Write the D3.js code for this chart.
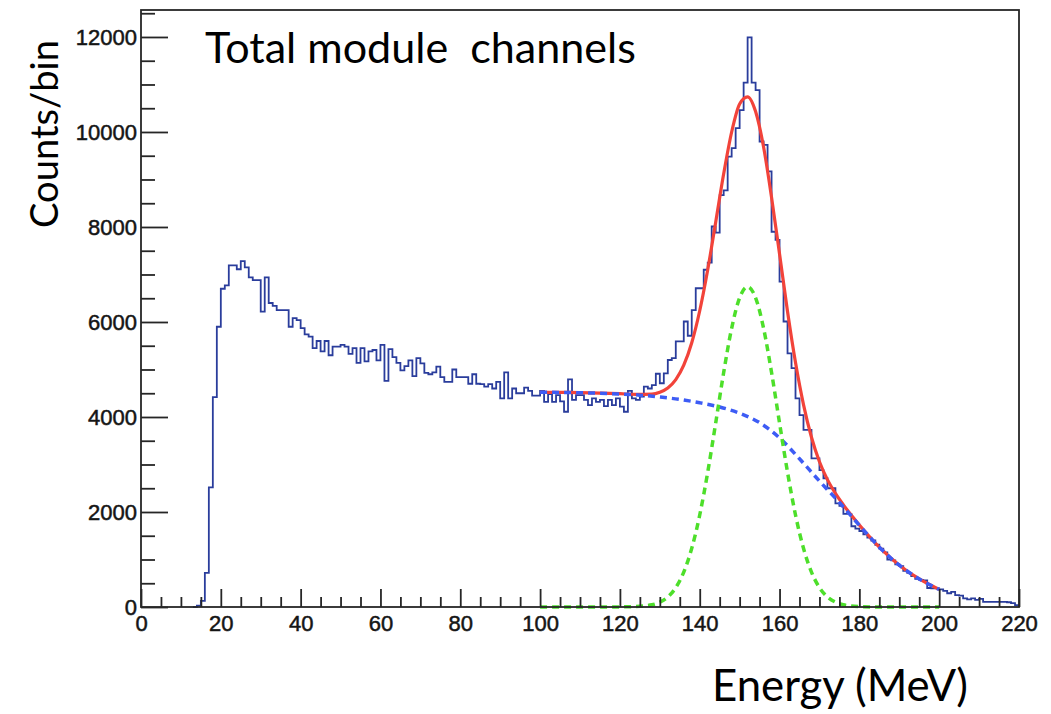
<!DOCTYPE html>
<html>
<head>
<meta charset="utf-8">
<script src="https://cdn.jsdelivr.net/npm/d3@7"></script>
<style>
  html, body { margin: 0; padding: 0; background: #fff; }
  svg { display: block; }
</style>
</head>
<body>
<div id="chart"></div>
<script>
// Counts per 1 MeV bin, 0 to 220 MeV
const binWidth = 1;
const counts = [
  0, 0, 0, 0, 0, 0, 0, 0, 0, 0,
  0, 0, 0, 0, 30, 130, 720, 2520, 4420, 5900,
  6700, 6770, 7190, 7190, 7110, 7280, 7150, 6940, 6880, 6880,
  6220, 6940, 6400, 6340, 6250, 6250, 6250, 5900, 6080, 6040,
  5870, 5740, 5690, 5450, 5600, 5380, 5600, 5300, 5480, 5480,
  5520, 5480, 5330, 5450, 5140, 5450, 5170, 5380, 5410, 5190,
  5520, 4760, 5430, 5260, 5140, 4980, 5070, 5190, 4860, 5240,
  5130, 4930, 4900, 4940, 5060, 4840, 4740, 4740, 5000, 4840,
  4840, 4840, 4700, 4900, 4700, 4690, 4640, 4690, 4600, 4740,
  4390, 4940, 4390, 4600, 4500, 4500, 4620, 4550, 4450, 4450,
  4550, 4320, 4480, 4320, 4460, 4330, 4110, 4790, 4360, 4460,
  4460, 4360, 4250, 4390, 4320, 4360, 4230, 4360, 4250, 4390,
  4220, 4110, 4550, 4390, 4360, 4430, 4640, 4600, 4670, 4910,
  4710, 4920, 5200, 5240, 5590, 5590, 6010, 5710, 6250, 6710,
  6710, 7100, 7250, 8010, 7880, 8670, 8770, 9480, 9660, 10080,
  10460, 11040, 11990, 11040, 10880, 9800, 9730, 9170, 7900, 7730,
  6850, 6010, 5340, 5030, 4390, 4040, 3730, 3730, 3130, 3130,
  2880, 2710, 2500, 2500, 2180, 2130, 1960, 1960, 1700, 1650,
  1600, 1530, 1460, 1400, 1310, 1230, 1150, 1000, 980, 900,
  860, 760, 720, 650, 590, 570, 560, 400, 390, 390,
  370, 340, 290, 320, 250, 240, 180, 160, 180, 150,
  170, 110, 110, 110, 110, 110, 110, 100, 80, 40,
];

// Total fit (red), sampled off the plot
const fitEnergy = [100, 105, 110, 115, 120, 124, 128, 130, 132, 134, 136, 138, 140, 142, 144, 146, 148, 150,
  152, 154, 156, 158, 160, 162, 164, 166, 168, 170, 172, 174, 176, 178, 180, 185, 190, 195, 200];
const fitTotal = [4520, 4518, 4512, 4502, 4490, 4476, 4482, 4522, 4611, 4788, 5091, 5563, 6237, 7100, 8101, 9119, 10000, 10590,
  10740, 10430, 9684, 8623, 7433, 6220, 5145, 4261, 3573, 3058, 2681, 2392, 2150, 1931, 1728, 1260, 880, 590, 370];

// Background component (blue dashed)
const bkgEnergy = [100, 105, 110, 115, 120, 125, 130, 135, 140, 145, 150, 155, 160, 165, 170, 175, 180, 185, 190, 195, 200];
const bkgValues = [4520, 4518, 4510, 4500, 4485, 4460, 4420, 4370, 4300, 4210, 4080, 3880, 3560, 3120, 2650, 2200, 1720, 1260, 880, 590, 370];

// Peak component (green dashed)
const peakEnergy = [100, 110, 120, 124, 128, 130, 132, 134, 136, 138, 140, 142, 144, 146, 148, 150, 152,
  154, 156, 158, 160, 162, 164, 166, 168, 170, 172, 174, 176, 180, 184, 190, 200];
const peakValues = [0, 0, 2, 10, 46, 102, 211, 408, 735, 1235, 1937, 2836, 3873, 4935, 5868, 6510, 6740,
  6510, 5868, 4935, 3873, 2836, 1937, 1235, 735, 408, 211, 102, 46, 8, 1, 0, 0];

const xMajorTicks = [0, 20, 40, 60, 80, 100, 120, 140, 160, 180, 200, 220];
const yMajorTicks = [0, 2000, 4000, 6000, 8000, 10000, 12000];

const titleText = "Total module  channels";
const yTitle = "Counts/bin";
const xTitle = "Energy (MeV)";

const width = 1051;
const height = 714;
const frame = { left: 141, right: 1019, top: 10, bottom: 607 };

const svg = d3.select("#chart").append("svg")
  .attr("width", width)
  .attr("height", height)
  .style("background", "#fff");

const x = d3.scaleLinear().domain([0, 220]).range([frame.left, frame.right]);
const y = d3.scaleLinear().domain([0, 12568]).range([frame.bottom, frame.top]);

const axisColor = "#262626";
const labelFont = "'Liberation Sans', Arial, Helvetica, sans-serif";
const titleFont = "Lato, 'Open Sans', sans-serif";

// Histogram (step line)
const first = Math.max(0, counts.findIndex((c) => c > 0) - 1);
const histPoints = counts.map((c, i) => ({ e: i * binWidth, c })).slice(first);
histPoints.push({ e: counts.length * binWidth, c: counts[counts.length - 1] });

svg.append("path")
  .datum(histPoints)
  .attr("fill", "none")
  .attr("stroke", "#2a3d9c")
  .attr("stroke-width", 1.8)
  .attr("d", d3.line().x((d) => x(d.e)).y((d) => y(d.c)).curve(d3.curveStepAfter));

// Fit curves
function curve(es, vs) {
  return d3.line()
    .x((d, i) => x(es[i]))
    .y((d) => y(d))
    .curve(d3.curveMonotoneX)(vs);
}

svg.append("path")
  .attr("d", curve(fitEnergy, fitTotal))
  .attr("fill", "none")
  .attr("stroke", "#f2433a")
  .attr("stroke-width", 3.2);

svg.append("path")
  .attr("d", curve(bkgEnergy, bkgValues))
  .attr("fill", "none")
  .attr("stroke", "#3d5cf5")
  .attr("stroke-width", 3.5)
  .attr("stroke-dasharray", "7,5");

svg.append("path")
  .attr("d", curve(peakEnergy, peakValues))
  .attr("fill", "none")
  .attr("stroke", "#4ddf2a")
  .attr("stroke-width", 3.5)
  .attr("stroke-dasharray", "7,5");

// Frame
svg.append("rect")
  .attr("x", frame.left)
  .attr("y", frame.top)
  .attr("width", frame.right - frame.left)
  .attr("height", frame.bottom - frame.top)
  .attr("fill", "none")
  .attr("stroke", axisColor)
  .attr("stroke-width", 1.8);

// Y axis: ticks point inward
const yMinor = d3.range(0, 12568, 500).filter((v) => !yMajorTicks.includes(v));
svg.append("g")
  .attr("transform", `translate(${frame.left},0)`)
  .call(d3.axisLeft(y).tickValues(yMinor).tickSize(-14).tickFormat(""))
  .call((g) => g.select(".domain").remove())
  .call((g) => g.selectAll("line").attr("stroke", axisColor).attr("stroke-width", 1.8));

svg.append("g")
  .attr("transform", `translate(${frame.left},0)`)
  .call(d3.axisLeft(y).tickValues(yMajorTicks).tickSize(-27).tickPadding(4).tickFormat(d3.format("d")))
  .call((g) => g.select(".domain").remove())
  .call((g) => g.selectAll("line").attr("stroke", axisColor).attr("stroke-width", 1.8))
  .call((g) => g.selectAll("text")
    .attr("fill", "#151515")
    .attr("stroke", "#151515")
    .attr("stroke-width", 0.5)
    .attr("font-family", labelFont)
    .attr("font-size", "22px"));

// X axis
const xMinor = d3.range(0, 221, 5).filter((v) => !xMajorTicks.includes(v));
svg.append("g")
  .attr("transform", `translate(0,${frame.bottom})`)
  .call(d3.axisBottom(x).tickValues(xMinor).tickSize(-10).tickFormat(""))
  .call((g) => g.select(".domain").remove())
  .call((g) => g.selectAll("line").attr("stroke", axisColor).attr("stroke-width", 1.8));

svg.append("g")
  .attr("transform", `translate(0,${frame.bottom})`)
  .call(d3.axisBottom(x).tickValues(xMajorTicks).tickSize(-18).tickPadding(8).tickFormat(d3.format("d")))
  .call((g) => g.select(".domain").remove())
  .call((g) => g.selectAll("line").attr("stroke", axisColor).attr("stroke-width", 1.8))
  .call((g) => g.selectAll("text")
    .attr("fill", "#151515")
    .attr("stroke", "#151515")
    .attr("stroke-width", 0.5)
    .attr("font-family", labelFont)
    .attr("font-size", "22px"));

// Titles, sized to the widths in the original
function fitWidth(text, target) {
  const w = text.node().getComputedTextLength();
  const fs = parseFloat(text.attr("font-size"));
  text.attr("font-size", fs * target / w);
}

const title = svg.append("text")
  .attr("x", 205)
  .attr("y", 63)
  .attr("font-family", titleFont)
  .attr("font-size", 42)
  .attr("fill", "#000")
  .style("white-space", "pre")
  .text(titleText);
fitWidth(title, 431);

const yLabel = svg.append("text")
  .attr("transform", "translate(58,134) rotate(-90)")
  .attr("text-anchor", "middle")
  .attr("font-family", titleFont)
  .attr("font-size", 42)
  .attr("fill", "#000")
  .text(yTitle);
fitWidth(yLabel, 188);

const xLabel = svg.append("text")
  .attr("x", 712)
  .attr("y", 701)
  .attr("font-family", titleFont)
  .attr("font-size", 40)
  .attr("fill", "#000")
  .text(xTitle);
fitWidth(xLabel, 256);
</script>
</body>
</html>
